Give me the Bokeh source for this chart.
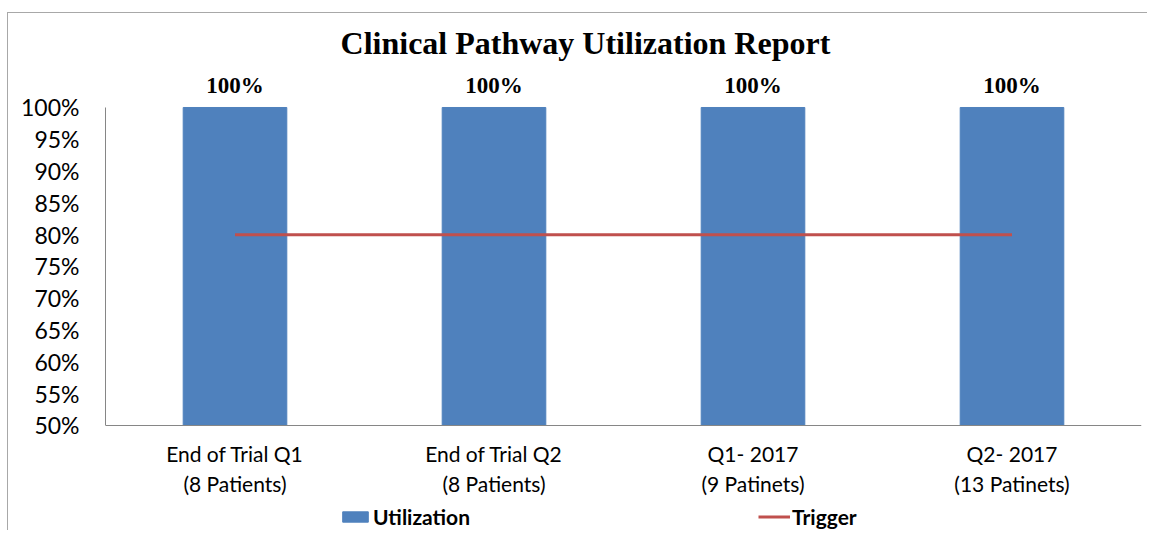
from bokeh.plotting import figure
from bokeh.models import (ColumnDataSource, NumeralTickFormatter, FactorRange, Range1d,
                          LabelSet, Label, Legend, LegendItem, FixedTicker)
from bokeh.embed import file_html
from bokeh.resources import INLINE

categories = ["End of Trial Q1\n(8 Patients)", "End of Trial Q2\n(8 Patients)",
              "Q1- 2017\n(9 Patinets)", "Q2- 2017\n(13 Patinets)"]
utilization = [1.0, 1.0, 1.0, 1.0]
trigger = [0.8, 0.8, 0.8, 0.8]
value_labels = ["100%", "100%", "100%", "100%"]
y_ticks = [0.50, 0.55, 0.60, 0.65, 0.70, 0.75, 0.80, 0.85, 0.90, 0.95, 1.00]

SANS = "Lato"
SERIF = "Liberation Serif"

src = ColumnDataSource(dict(cat=categories, util=utilization, trig=trigger, lab=value_labels))

p = figure(width=1140, height=518, x_range=FactorRange(*categories, range_padding=0),
           y_range=Range1d(0.3333, 1.1478), output_backend="svg", toolbar_location=None,
           min_border_left=97, min_border_right=7, min_border_top=0, min_border_bottom=0)
p.styles = {"margin": "12px 0 0 7px", "border-top": "1px solid #a8a8a8",
            "border-left": "1px solid #a8a8a8"}
p.outline_line_color = None
p.xgrid.grid_line_color = None
p.ygrid.grid_line_color = None
p.background_fill_color = "white"
p.border_fill_color = "white"

bars = p.vbar(x="cat", top="util", bottom=0.5, width=0.4, source=src,
              fill_color="#4F81BD", line_color="#4F81BD")
line = p.line(x="cat", y="trig", source=src, line_color="#C0504D", line_width=3)

p.yaxis.bounds = (0.5, 1.0)
p.yaxis.ticker = FixedTicker(ticks=y_ticks)
p.yaxis.formatter = NumeralTickFormatter(format="0%")
p.yaxis.major_tick_line_color = None
p.yaxis.minor_tick_line_color = None
p.yaxis.axis_line_color = "#868686"
p.yaxis.major_label_text_font = SANS
p.yaxis.major_label_text_font_size = "23px"
p.yaxis.major_label_text_color = "black"
p.yaxis.major_label_standoff = 20

p.xaxis.fixed_location = 0.5
p.xaxis.major_tick_line_color = None
p.xaxis.axis_line_color = "#868686"
p.xaxis.major_label_text_font = SANS
p.xaxis.major_label_text_font_size = "21px"
p.xaxis.major_label_text_color = "black"
p.xaxis.major_label_standoff = 10
p.xaxis.major_label_text_line_height = 1.2

labels = LabelSet(x="cat", y="util", text="lab", source=src, y_offset=22,
                  text_align="center", text_baseline="middle",
                  text_font=SERIF, text_font_style="bold", text_font_size="23px",
                  text_color="black")
p.add_layout(labels)

title = Label(x=1.853, y=1.0, y_offset=64, text="Clinical Pathway Utilization Report",
              text_align="center", text_baseline="middle", text_font=SERIF,
              text_font_style="bold", text_font_size="32px", text_color="black")
p.add_layout(title)

legend = Legend(items=[LegendItem(label="Utilization", renderers=[bars]),
                       LegendItem(label="Trigger", renderers=[line])],
                location=(234, 2), orientation="horizontal", spacing=288,
                glyph_width=32, glyph_height=13, label_standoff=2, padding=0, margin=0,
                border_line_color=None, background_fill_alpha=0,
                label_text_font=SANS, label_text_font_style="bold",
                label_text_font_size="21px", label_text_color="black")
p.add_layout(legend)

open("out.html", "w").write(file_html(p, INLINE))
